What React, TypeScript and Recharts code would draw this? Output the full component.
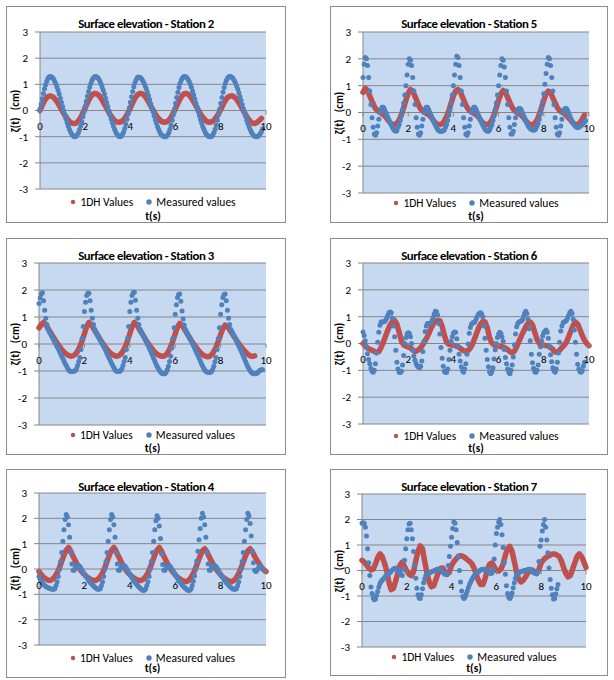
import React from "react";
import { ScatterChart, Scatter, XAxis, YAxis, CartesianGrid, Legend } from "recharts";

const RED = "#C0504D";
const BLUE = "#4F81BD";
const GRID = "#868686";
const PLOT_BG = "#C6D9F1";
const FONT = 'Carlito, Calibri, Lato, "Liberation Sans", sans-serif';

const X_TICKS = [0, 2, 4, 6, 8, 10];
const Y_TICKS = [-3, -2, -1, 0, 1, 2, 3];

// sample times of the measured records (0.05 s)
const T_MEAS = [
  0, 0.05, 0.1, 0.15, 0.2, 0.25, 0.3, 0.35, 0.4, 0.45, 0.5, 0.55, 0.6, 0.65, 0.7, 0.75, 0.8, 0.85, 0.9, 0.95,
  1, 1.05, 1.1, 1.15, 1.2, 1.25, 1.3, 1.35, 1.4, 1.45, 1.5, 1.55, 1.6, 1.65, 1.7, 1.75, 1.8, 1.85, 1.9, 1.95,
  2, 2.05, 2.1, 2.15, 2.2, 2.25, 2.3, 2.35, 2.4, 2.45, 2.5, 2.55, 2.6, 2.65, 2.7, 2.75, 2.8, 2.85, 2.9, 2.95,
  3, 3.05, 3.1, 3.15, 3.2, 3.25, 3.3, 3.35, 3.4, 3.45, 3.5, 3.55, 3.6, 3.65, 3.7, 3.75, 3.8, 3.85, 3.9, 3.95,
  4, 4.05, 4.1, 4.15, 4.2, 4.25, 4.3, 4.35, 4.4, 4.45, 4.5, 4.55, 4.6, 4.65, 4.7, 4.75, 4.8, 4.85, 4.9, 4.95,
  5, 5.05, 5.1, 5.15, 5.2, 5.25, 5.3, 5.35, 5.4, 5.45, 5.5, 5.55, 5.6, 5.65, 5.7, 5.75, 5.8, 5.85, 5.9, 5.95,
  6, 6.05, 6.1, 6.15, 6.2, 6.25, 6.3, 6.35, 6.4, 6.45, 6.5, 6.55, 6.6, 6.65, 6.7, 6.75, 6.8, 6.85, 6.9, 6.95,
  7, 7.05, 7.1, 7.15, 7.2, 7.25, 7.3, 7.35, 7.4, 7.45, 7.5, 7.55, 7.6, 7.65, 7.7, 7.75, 7.8, 7.85, 7.9, 7.95,
  8, 8.05, 8.1, 8.15, 8.2, 8.25, 8.3, 8.35, 8.4, 8.45, 8.5, 8.55, 8.6, 8.65, 8.7, 8.75, 8.8, 8.85, 8.9, 8.95,
  9, 9.05, 9.1, 9.15, 9.2, 9.25, 9.3, 9.35, 9.4, 9.45, 9.5, 9.55, 9.6, 9.65, 9.7, 9.75, 9.8, 9.85, 9.9, 9.95,
];

// output times of the 1DH model (0.1 s)
const T_MODEL = [
  0, 0.1, 0.2, 0.3, 0.4, 0.5, 0.6, 0.7, 0.8, 0.9,
  1, 1.1, 1.2, 1.3, 1.4, 1.5, 1.6, 1.7, 1.8, 1.9,
  2, 2.1, 2.2, 2.3, 2.4, 2.5, 2.6, 2.7, 2.8, 2.9,
  3, 3.1, 3.2, 3.3, 3.4, 3.5, 3.6, 3.7, 3.8, 3.9,
  4, 4.1, 4.2, 4.3, 4.4, 4.5, 4.6, 4.7, 4.8, 4.9,
  5, 5.1, 5.2, 5.3, 5.4, 5.5, 5.6, 5.7, 5.8, 5.9,
  6, 6.1, 6.2, 6.3, 6.4, 6.5, 6.6, 6.7, 6.8, 6.9,
  7, 7.1, 7.2, 7.3, 7.4, 7.5, 7.6, 7.7, 7.8, 7.9,
  8, 8.1, 8.2, 8.3, 8.4, 8.5, 8.6, 8.7, 8.8, 8.9,
  9, 9.1, 9.2, 9.3, 9.4, 9.5, 9.6, 9.7, 9.8, 9.9,
  10,
];

// ---- Station 2
const st2Measured = [
  0.05, 0.25, 0.45, 0.65, 0.83, 0.98, 1.12, 1.22, 1.28, 1.3, 1.29, 1.25, 1.2, 1.12, 1.02, 0.9, 0.77, 0.63, 0.47, 0.31,
  0.15, -0.01, -0.17, -0.33, -0.47, -0.6, -0.72, -0.82, -0.9, -0.95, -0.99, -1.0, -0.98, -0.93, -0.85, -0.73, -0.59, -0.43, -0.24, -0.05,
  0.15, 0.35, 0.54, 0.73, 0.89, 1.03, 1.15, 1.23, 1.28, 1.3, 1.29, 1.25, 1.2, 1.12, 1.02, 0.9, 0.77, 0.63, 0.47, 0.31,
  0.15, -0.01, -0.17, -0.33, -0.47, -0.6, -0.72, -0.82, -0.9, -0.95, -0.99, -1.0, -0.97, -0.91, -0.82, -0.69, -0.53, -0.33, -0.12, 0.1,
  0.32, 0.53, 0.73, 0.91, 1.06, 1.17, 1.25, 1.28, 1.27, 1.25, 1.2, 1.13, 1.05, 0.95, 0.83, 0.7, 0.56, 0.41, 0.26, 0.1,
  -0.05, -0.2, -0.35, -0.48, -0.61, -0.72, -0.82, -0.9, -0.95, -0.98, -1.0, -1.0, -0.98, -0.93, -0.84, -0.72, -0.56, -0.37, -0.16, 0.06,
  0.28, 0.5, 0.7, 0.88, 1.04, 1.16, 1.24, 1.29, 1.3, 1.29, 1.25, 1.19, 1.11, 1.01, 0.89, 0.75, 0.6, 0.45, 0.29, 0.13,
  -0.03, -0.19, -0.34, -0.48, -0.61, -0.72, -0.82, -0.9, -0.95, -0.98, -1.0, -1.0, -0.98, -0.93, -0.84, -0.72, -0.56, -0.37, -0.16, 0.06,
  0.28, 0.5, 0.7, 0.88, 1.04, 1.16, 1.24, 1.29, 1.3, 1.29, 1.26, 1.21, 1.14, 1.05, 0.94, 0.82, 0.68, 0.53, 0.38, 0.22,
  0.07, -0.08, -0.23, -0.37, -0.5, -0.62, -0.73, -0.82, -0.89, -0.95, -0.98, -1.0, -1.0, -0.98, -0.94, -0.88, -0.8, -0.7,
];
const st2Model = [
  0.0, 0.2, 0.38, 0.5, 0.55, 0.55, 0.5, 0.4, 0.27, 0.12,
  -0.03, -0.18, -0.31, -0.42, -0.48, -0.5, -0.48, -0.4, -0.27, -0.1,
  0.1, 0.3, 0.47, 0.59, 0.65, 0.64, 0.58, 0.47, 0.32, 0.16,
  0.0, -0.15, -0.28, -0.38, -0.44, -0.45, -0.43, -0.36, -0.24, -0.08,
  0.1, 0.3, 0.47, 0.59, 0.65, 0.65, 0.59, 0.48, 0.34, 0.18,
  0.02, -0.13, -0.26, -0.36, -0.43, -0.45, -0.43, -0.37, -0.26, -0.1,
  0.08, 0.28, 0.45, 0.58, 0.65, 0.65, 0.59, 0.48, 0.34, 0.18,
  0.02, -0.13, -0.26, -0.36, -0.43, -0.45, -0.43, -0.37, -0.26, -0.12,
  0.05, 0.22, 0.38, 0.5, 0.55, 0.56, 0.52, 0.43, 0.3, 0.15,
  -0.01, -0.16, -0.3, -0.41, -0.48, -0.5, -0.46, -0.38, -0.3,
];

// ---- Station 5
const st5Measured = [
  1.3, 1.8, 2.05, 2.0, 1.75, 1.3, 0.8, 0.3, -0.2, -0.55, -0.8, -0.85, -0.75, -0.5, -0.25, 0.0, 0.12, 0.2, 0.2, 0.12,
  0.02, -0.08, -0.18, -0.28, -0.38, -0.47, -0.55, -0.62, -0.67, -0.7, -0.68, -0.55, -0.45, -0.3, -0.1, 0.1, 0.35, 0.65, 1.0, 1.4,
  1.8, 2.0, 1.95, 1.75, 1.3, 0.8, 0.3, -0.2, -0.55, -0.8, -0.85, -0.75, -0.5, -0.25, 0.0, 0.12, 0.2, 0.2, 0.12, 0.02,
  -0.08, -0.18, -0.28, -0.38, -0.47, -0.55, -0.62, -0.67, -0.7, -0.7, -0.7, -0.68, -0.65, -0.55, -0.45, -0.3, -0.1, 0.1, 0.35, 0.65,
  1.0, 1.4, 1.8, 2.1, 2.05, 1.75, 1.3, 0.8, 0.3, -0.2, -0.55, -0.8, -0.85, -0.75, -0.5, -0.25, 0.0, 0.12, 0.2, 0.2,
  0.12, 0.02, -0.08, -0.18, -0.28, -0.38, -0.47, -0.55, -0.62, -0.67, -0.7, -0.7, -0.65, -0.55, -0.45, -0.3, -0.1, 0.1, 0.35, 0.65,
  1.0, 1.4, 1.75, 2.0, 1.95, 1.7, 1.3, 0.8, 0.3, -0.2, -0.55, -0.8, -0.8, -0.7, -0.45, -0.2, 0.0, 0.1, 0.15, 0.15,
  0.1, 0.0, -0.1, -0.2, -0.3, -0.4, -0.48, -0.55, -0.6, -0.63, -0.65, -0.65, -0.65, -0.6, -0.5, -0.4, -0.25, -0.05, 0.15, 0.4,
  0.7, 1.05, 1.45, 1.8, 2.05, 2.0, 1.75, 1.3, 0.8, 0.3, -0.2, -0.55, -0.8, -0.85, -0.75, -0.5, -0.25, 0.0, 0.1, 0.15,
  0.15, 0.08, -0.02, -0.12, -0.22, -0.32, -0.4, -0.47, -0.52, -0.55, -0.57, -0.55, -0.52, -0.48, -0.45, -0.4, -0.35, -0.3,
];
const st5Model = [
  0.75, 0.9, 0.82, 0.62, 0.42, 0.22, 0.1, 0.03, -0.02, -0.08,
  -0.16, -0.28, -0.38, -0.44, -0.45, -0.4, -0.28, -0.08, 0.18, 0.46,
  0.72, 0.86, 0.8, 0.6, 0.4, 0.2, 0.08, 0.02, -0.03, -0.08,
  -0.16, -0.28, -0.38, -0.44, -0.45, -0.42, -0.32, -0.15, 0.08, 0.35,
  0.62, 0.8, 0.86, 0.78, 0.58, 0.38, 0.2, 0.08, 0.02, -0.03,
  -0.08, -0.16, -0.28, -0.38, -0.44, -0.45, -0.4, -0.28, -0.08, 0.18,
  0.46, 0.7, 0.82, 0.75, 0.56, 0.37, 0.19, 0.07, 0.01, -0.04,
  -0.1, -0.18, -0.3, -0.4, -0.45, -0.46, -0.4, -0.28, -0.08, 0.18,
  0.46, 0.7, 0.8, 0.74, 0.55, 0.36, 0.18, 0.07, 0.01, -0.04,
  -0.1, -0.2, -0.3, -0.4, -0.45, -0.45, -0.38, -0.25, -0.1,
];

// ---- Station 3
const st3Measured = [
  1.5, 1.7, 1.85, 1.9, 1.6, 1.25, 0.95, 0.72, 0.55, 0.45, 0.38, 0.3, 0.22, 0.14, 0.06, -0.02, -0.1, -0.18, -0.27, -0.36,
  -0.45, -0.54, -0.63, -0.72, -0.8, -0.88, -0.95, -1.0, -1.02, -1.02, -1.02, -1.0, -0.98, -0.92, -0.8, -0.65, -0.5, -0.2, 0.2, 0.65,
  1.2, 1.55, 1.8, 1.88, 1.88, 1.6, 1.25, 0.95, 0.72, 0.55, 0.45, 0.38, 0.3, 0.22, 0.14, 0.06, -0.02, -0.1, -0.18, -0.27,
  -0.36, -0.45, -0.54, -0.63, -0.72, -0.8, -0.88, -0.95, -1.0, -1.02, -1.02, -1.02, -0.98, -0.92, -0.8, -0.65, -0.5, -0.2, 0.2, 0.65,
  1.2, 1.55, 1.8, 1.9, 1.92, 1.62, 1.25, 0.95, 0.72, 0.55, 0.45, 0.38, 0.3, 0.22, 0.13, 0.04, -0.05, -0.14, -0.23, -0.33,
  -0.43, -0.53, -0.63, -0.73, -0.82, -0.9, -0.97, -1.03, -1.07, -1.1, -1.1, -1.1, -1.05, -0.95, -0.82, -0.65, -0.45, -0.15, 0.2, 0.6,
  1.1, 1.45, 1.72, 1.83, 1.85, 1.58, 1.22, 0.93, 0.7, 0.54, 0.44, 0.36, 0.28, 0.2, 0.12, 0.03, -0.06, -0.15, -0.24, -0.33,
  -0.42, -0.52, -0.62, -0.72, -0.81, -0.89, -0.96, -1.01, -1.04, -1.05, -1.05, -1.05, -1.02, -0.94, -0.82, -0.66, -0.5, -0.2, 0.2, 0.6,
  1.1, 1.45, 1.72, 1.83, 1.85, 1.6, 1.25, 0.95, 0.72, 0.55, 0.45, 0.37, 0.29, 0.2, 0.11, 0.02, -0.07, -0.16, -0.25, -0.35,
  -0.45, -0.55, -0.65, -0.75, -0.84, -0.92, -0.99, -1.04, -1.08, -1.1, -1.1, -1.1, -1.08, -1.05, -1.0, -0.97, -0.95, -0.95,
];
const st3Model = [
  0.6, 0.72, 0.8, 0.72, 0.58, 0.44, 0.3, 0.16, 0.03, -0.09,
  -0.2, -0.3, -0.37, -0.42, -0.45, -0.44, -0.38, -0.27, -0.1, 0.12,
  0.38, 0.64, 0.8, 0.72, 0.58, 0.44, 0.3, 0.16, 0.03, -0.09,
  -0.2, -0.3, -0.37, -0.42, -0.45, -0.44, -0.38, -0.27, -0.1, 0.12,
  0.38, 0.64, 0.8, 0.72, 0.58, 0.44, 0.3, 0.16, 0.03, -0.09,
  -0.2, -0.3, -0.37, -0.42, -0.45, -0.45, -0.4, -0.28, -0.1, 0.12,
  0.38, 0.62, 0.76, 0.7, 0.56, 0.42, 0.28, 0.14, 0.01, -0.1,
  -0.21, -0.31, -0.39, -0.44, -0.47, -0.46, -0.4, -0.28, -0.12, 0.1,
  0.35, 0.58, 0.7, 0.65, 0.53, 0.4, 0.27, 0.14, 0.02, -0.1,
  -0.2, -0.3, -0.38, -0.44, -0.46, -0.44,
];

// ---- Station 6
const st6Measured = [
  0.43, 0.3, 0.1, -0.12, -0.38, -0.6, -0.75, -0.92, -1.03, -1.07, -1.0, -0.75, -0.35, 0.05, 0.42, 0.68, 0.8, 0.8, 0.8, 0.82,
  0.87, 0.94, 1.05, 1.15, 1.17, 1.15, 0.95, 0.65, 0.25, -0.25, -0.7, -0.95, -1.07, -1.08, -1.03, -0.8, -0.45, 0.0, 0.22, 0.35,
  0.4, 0.38, 0.25, 0.0, -0.25, -0.47, -0.62, -0.75, -0.83, -0.88, -0.9, -0.85, -0.65, -0.3, 0.08, 0.45, 0.65, 0.75, 0.75, 0.74,
  0.75, 0.85, 0.97, 1.1, 1.2, 1.18, 1.06, 0.75, 0.35, -0.15, -0.55, -0.85, -1.03, -1.08, -1.07, -0.95, -0.6, -0.25, 0.07, 0.25,
  0.38, 0.43, 0.42, 0.18, -0.1, -0.4, -0.65, -0.87, -1.02, -1.07, -0.95, -0.75, -0.4, -0.02, 0.38, 0.6, 0.72, 0.76, 0.78, 0.8,
  0.9, 1.0, 1.08, 1.13, 1.15, 1.1, 1.0, 0.65, 0.2, -0.25, -0.6, -0.87, -1.05, -1.13, -1.05, -0.9, -0.58, -0.23, 0.0, 0.22,
  0.35, 0.42, 0.38, 0.25, 0.08, -0.22, -0.52, -0.75, -0.95, -1.08, -1.13, -1.0, -0.8, -0.5, -0.05, 0.35, 0.62, 0.75, 0.8, 0.82,
  0.84, 0.88, 1.0, 1.13, 1.2, 1.12, 0.9, 0.55, 0.1, -0.4, -0.72, -0.92, -1.05, -1.07, -1.0, -0.8, -0.4, -0.12, 0.1, 0.28,
  0.4, 0.45, 0.5, 0.42, 0.2, -0.1, -0.42, -0.68, -0.9, -1.02, -1.07, -0.95, -0.7, -0.35, 0.05, 0.47, 0.65, 0.77, 0.8, 0.83,
  0.86, 0.95, 1.05, 1.15, 1.2, 1.12, 0.9, 0.5, 0.05, -0.4, -0.77, -0.95, -1.05, -1.07, -1.02, -0.85, -0.7,
];
const st6Model = [
  0.0, -0.1, -0.17, -0.21, -0.25, -0.29, -0.34, -0.3, -0.15, 0.05,
  0.28, 0.5, 0.7, 0.82, 0.86, 0.72, 0.42, 0.1, -0.05, -0.1,
  -0.13, -0.17, -0.23, -0.3, -0.27, -0.2, -0.1, 0.03, 0.18, 0.35,
  0.55, 0.72, 0.82, 0.86, 0.85, 0.65, 0.3, 0.05, -0.03, -0.05,
  -0.07, -0.09, -0.12, -0.18, -0.24, -0.28, -0.29, -0.22, -0.1, 0.1,
  0.32, 0.55, 0.72, 0.82, 0.8, 0.58, 0.22, 0.02, -0.05, -0.08,
  -0.1, -0.11, -0.13, -0.17, -0.23, -0.3, -0.35, -0.28, -0.12, 0.08,
  0.27, 0.45, 0.62, 0.75, 0.8, 0.7, 0.42, 0.15, 0.0, -0.05,
  -0.06, -0.08, -0.1, -0.15, -0.22, -0.32, -0.33, -0.25, -0.15, -0.07,
  0.05, 0.25, 0.47, 0.68, 0.8, 0.72, 0.52, 0.3, 0.12, 0.0,
  -0.08,
];

// ---- Station 4
const st4Measured = [
  -0.3, -0.4, -0.48, -0.55, -0.6, -0.65, -0.69, -0.72, -0.74, -0.76, -0.78, -0.79, -0.8, -0.8, -0.77, -0.65, -0.5, -0.3, 0.0, 0.3,
  0.65, 1.1, 1.55, 1.95, 2.15, 2.05, 1.75, 1.25, 0.65, 0.2, -0.05, -0.05, 0.05, 0.1, 0.15, 0.13, 0.1, 0.03, -0.05, -0.13,
  -0.2, -0.27, -0.33, -0.4, -0.46, -0.52, -0.57, -0.62, -0.67, -0.71, -0.75, -0.78, -0.8, -0.8, -0.77, -0.65, -0.5, -0.3, 0.0, 0.3,
  0.65, 1.1, 1.55, 1.95, 2.15, 2.05, 1.75, 1.25, 0.65, 0.2, -0.05, -0.05, 0.05, 0.1, 0.15, 0.13, 0.1, 0.03, -0.05, -0.13,
  -0.2, -0.28, -0.35, -0.42, -0.48, -0.55, -0.6, -0.66, -0.71, -0.75, -0.8, -0.83, -0.85, -0.83, -0.78, -0.65, -0.5, -0.3, 0.0, 0.3,
  0.65, 1.1, 1.55, 1.9, 2.1, 2.0, 1.7, 1.2, 0.6, 0.18, -0.05, -0.05, 0.05, 0.1, 0.13, 0.12, 0.08, 0.0, -0.08, -0.15,
  -0.22, -0.3, -0.37, -0.44, -0.5, -0.56, -0.62, -0.67, -0.72, -0.76, -0.8, -0.83, -0.85, -0.83, -0.78, -0.65, -0.48, -0.28, 0.0, 0.32,
  0.7, 1.15, 1.6, 2.0, 2.2, 2.05, 1.75, 1.25, 0.65, 0.2, -0.05, -0.05, 0.05, 0.1, 0.15, 0.13, 0.1, 0.03, -0.05, -0.13,
  -0.2, -0.27, -0.34, -0.41, -0.47, -0.53, -0.58, -0.63, -0.68, -0.72, -0.76, -0.79, -0.8, -0.8, -0.77, -0.65, -0.5, -0.3, 0.0, 0.3,
  0.65, 1.1, 1.55, 1.95, 2.2, 2.1, 1.8, 1.3, 0.7, 0.25, -0.05, -0.1, -0.05, 0.02, 0.08, 0.1, 0.05, 0.0,
];
const st4Model = [
  -0.1, -0.22, -0.32, -0.39, -0.44, -0.45, -0.4, -0.3, -0.15, 0.05,
  0.3, 0.55, 0.75, 0.85, 0.7, 0.5, 0.32, 0.15, 0.0, -0.12,
  -0.22, -0.3, -0.37, -0.42, -0.45, -0.45, -0.4, -0.3, -0.15, 0.05,
  0.3, 0.55, 0.75, 0.85, 0.7, 0.5, 0.32, 0.15, 0.0, -0.12,
  -0.22, -0.3, -0.37, -0.42, -0.45, -0.45, -0.4, -0.3, -0.15, 0.05,
  0.3, 0.55, 0.75, 0.85, 0.7, 0.5, 0.32, 0.15, 0.0, -0.12,
  -0.23, -0.32, -0.39, -0.45, -0.48, -0.5, -0.45, -0.33, -0.17, 0.03,
  0.28, 0.52, 0.72, 0.8, 0.68, 0.48, 0.3, 0.14, 0.0, -0.12,
  -0.23, -0.32, -0.39, -0.45, -0.48, -0.5, -0.45, -0.33, -0.17, 0.03,
  0.28, 0.52, 0.72, 0.8, 0.68, 0.5, 0.35, 0.2, 0.07, -0.03,
  -0.1,
];

// ---- Station 7
const st7Measured = [
  1.85, 1.87, 1.85, 1.7, 1.35, 0.85, 0.3, -0.2, -0.65, -0.9, -1.08, -1.15, -1.12, -0.98, -0.82, -0.65, -0.52, -0.43, -0.38, -0.33,
  -0.28, -0.23, -0.19, -0.15, -0.12, -0.08, -0.03, 0.02, 0.05, 0.08, 0.1, 0.08, 0.02, -0.05, -0.1, -0.17, -0.2, 0.05, 0.4, 0.85,
  1.25, 1.6, 1.82, 1.85, 1.6, 1.25, 0.75, 0.2, -0.3, -0.7, -0.95, -1.08, -1.1, -0.95, -0.72, -0.48, -0.32, -0.2, -0.14, -0.1,
  -0.1, -0.08, -0.05, -0.03, -0.02, 0.0, 0.02, 0.05, 0.05, 0.03, 0.02, 0.0, -0.05, -0.1, -0.15, -0.15, -0.12, 0.2, 0.55, 0.95,
  1.3, 1.65, 1.9, 1.85, 1.6, 1.1, 0.55, 0.0, -0.45, -0.8, -1.02, -1.1, -1.05, -0.92, -0.8, -0.67, -0.55, -0.45, -0.36, -0.28,
  -0.22, -0.17, -0.12, -0.08, -0.04, -0.01, 0.02, 0.04, 0.05, 0.05, 0.05, 0.03, 0.0, -0.05, -0.1, -0.12, -0.1, 0.05, 0.45, 1.0,
  1.45, 1.7, 1.9, 2.0, 1.8, 1.4, 0.9, 0.3, -0.15, -0.6, -0.9, -1.05, -1.1, -1.02, -0.88, -0.68, -0.48, -0.3, -0.18, -0.12,
  -0.08, -0.06, -0.05, -0.03, -0.02, 0.0, 0.0, 0.02, 0.03, 0.05, 0.05, 0.03, -0.02, -0.08, -0.1, -0.12, -0.12, -0.05, 0.35, 0.95,
  1.2, 1.55, 1.8, 2.0, 1.7, 1.2, 0.7, 0.1, -0.35, -0.7, -0.95, -1.12, -1.1, -0.92, -0.72, -0.55,
];
const st7Model = [
  0.4, 0.33, 0.22, 0.1, 0.02, 0.05, 0.25, 0.5, 0.65, 0.55,
  0.3, 0.0, -0.45, -0.75, -0.7, -0.42, -0.1, 0.22, 0.33, 0.15,
  -0.02, -0.15, -0.2, -0.05, 0.38, 0.75, 0.97, 0.85, 0.35, -0.1,
  -0.45, -0.64, -0.6, -0.35, -0.1, 0.08, 0.1, -0.05, -0.15, -0.05,
  0.2, 0.35, 0.45, 0.55, 0.58, 0.55, 0.5, 0.43, 0.36, 0.27,
  0.1, -0.15, -0.4, -0.55, -0.55, -0.3, 0.05, 0.25, 0.3, 0.15,
  0.0, -0.02, 0.05, 0.25, 0.6, 0.85, 0.94, 0.75, 0.35, -0.05,
  -0.35, -0.45, -0.38, -0.25, -0.1, 0.0, 0.02, -0.05, -0.12, 0.05,
  0.3, 0.42, 0.5, 0.55, 0.6, 0.65, 0.65, 0.6, 0.55, 0.38,
  0.12, -0.12, -0.25, -0.2, 0.05, 0.3, 0.55, 0.65, 0.55, 0.35,
  0.12,
];

const pairs = (ts: number[], vs: number[]) => vs.map((v, i) => ({ t: ts[i], v }));

type Panel = {
  title: string;
  left: number;
  top: number;
  w: number;
  h: number;
  plot: { l: number; r: number; t: number; b: number };
  legendY: number;
  axisY: number;
  model: number[];
  measured: number[];
};

const PANELS: Panel[] = [
  { title: "Surface elevation - Station 2", left: 6, top: 6, w: 280, h: 217, plot: { l: 34, r: 260, t: 26, b: 183 }, legendY: 196, axisY: 210, model: st2Model, measured: st2Measured },
  { title: "Surface elevation - Station 5", left: 330, top: 6, w: 278, h: 217, plot: { l: 33, r: 259, t: 26, b: 187 }, legendY: 197, axisY: 210, model: st5Model, measured: st5Measured },
  { title: "Surface elevation - Station 3", left: 6, top: 238, w: 280, h: 217, plot: { l: 33, r: 260, t: 25, b: 187 }, legendY: 197, axisY: 210, model: st3Model, measured: st3Measured },
  { title: "Surface elevation - Station 6", left: 330, top: 238, w: 278, h: 217, plot: { l: 33, r: 259, t: 25, b: 186 }, legendY: 198, axisY: 210, model: st6Model, measured: st6Measured },
  { title: "Surface elevation - Station 4", left: 6, top: 469, w: 280, h: 209, plot: { l: 33, r: 260, t: 24, b: 176 }, legendY: 189, axisY: 199, model: st4Model, measured: st4Measured },
  { title: "Surface elevation - Station 7", left: 330, top: 469, w: 278, h: 207, plot: { l: 32, r: 256, t: 25, b: 178 }, legendY: 188, axisY: 199, model: st7Model, measured: st7Measured },
];

const MeasuredDot = (props: any) => <circle cx={props.cx} cy={props.cy} r={2.5} fill={BLUE} />;
const NoDot = () => <g />;

function LegendRow(props: any) {
  const items = props.payload || [];
  return (
    <div style={{ display: "flex", justifyContent: "center", alignItems: "center", fontFamily: FONT, fontSize: 11.5, color: "#000", lineHeight: "14px" }}>
      {items.map((p: any, i: number) => (
        <span key={i} style={{ display: "inline-flex", alignItems: "center", marginLeft: i ? 13 : 0 }}>
          <svg width={6} height={6} style={{ marginRight: 4 }}>
            <circle cx={3} cy={3} r={i ? 2.7 : 2.2} fill={p.color} />
          </svg>
          {p.value}
        </span>
      ))}
    </div>
  );
}

function StationChart({ p }: { p: Panel }) {
  const plotW = p.plot.r - p.plot.l;
  const zeroY = (p.plot.t + p.plot.b) / 2;
  // x axis crosses at zero, Excel style: tick marks and labels just under the zero line
  const xTick = (props: any) => (
    <g>
      <line x1={props.x} x2={props.x} y1={zeroY} y2={zeroY + 4} stroke={GRID} />
      <text x={props.x} y={zeroY + 19.5} textAnchor="middle" fontSize={11} fontFamily={FONT} fill="#000">
        {props.payload.value}
      </text>
    </g>
  );
  return (
    <div style={{ position: "absolute", left: p.left, top: p.top, width: p.w, height: p.h, background: "#fff" }}>
      <ScatterChart
        width={p.w}
        height={p.h}
        margin={{ top: p.plot.t, right: p.w - p.plot.r, bottom: p.h - p.plot.b - 1, left: 0 }}
      >
        <CartesianGrid vertical={false} stroke={GRID} fill={PLOT_BG} fillOpacity={1} />
        <XAxis
          type="number"
          dataKey="t"
          domain={[0, 10]}
          ticks={X_TICKS}
          interval={0}
          height={1}
          axisLine={false}
          tickLine={false}
          tick={xTick}
        />
        <YAxis
          type="number"
          dataKey="v"
          domain={[-3, 3]}
          ticks={Y_TICKS}
          interval={0}
          width={p.plot.l}
          axisLine={{ stroke: GRID }}
          tickLine={{ stroke: GRID }}
          tickSize={5}
          tickMargin={7}
          tick={{ fontSize: 11, fontFamily: FONT, fill: "#000" }}
        />
        <Legend
          verticalAlign="middle"
          align="center"
          width={plotW}
          wrapperStyle={{ left: p.plot.l, top: p.legendY - 7 }}
          content={<LegendRow />}
        />
        <Scatter
          name="1DH Values"
          data={pairs(T_MODEL, p.model)}
          fill={RED}
          line={{ stroke: RED, strokeWidth: 5.5, strokeLinejoin: "round", strokeLinecap: "round" }}
          shape={NoDot}
          isAnimationActive={false}
        />
        <Scatter
          name="Measured values"
          data={pairs(T_MEAS, p.measured)}
          fill={BLUE}
          shape={MeasuredDot}
          isAnimationActive={false}
        />
      </ScatterChart>
      <div style={{ position: "absolute", left: 0, top: 9, width: p.w, textAlign: "center", fontFamily: FONT, fontWeight: 700, fontSize: 12.8, letterSpacing: -0.45, lineHeight: "17px" }}>
        {p.title}
      </div>
      <div
        style={{
          position: "absolute",
          left: 9,
          top: zeroY,
          transform: "translate(-50%, -50%) rotate(-90deg)",
          whiteSpace: "pre",
          fontFamily: FONT,
          fontWeight: 700,
          fontSize: 11,
        }}
      >
        {"ζ(t)   (cm)"}
      </div>
      <div style={{ position: "absolute", left: p.plot.l, top: p.axisY - 7, width: plotW, textAlign: "center", fontFamily: FONT, fontWeight: 700, fontSize: 11.5, lineHeight: "14px" }}>
        t(s)
      </div>
      <div style={{ position: "absolute", inset: 0, border: "1px solid #8C8C8C", pointerEvents: "none" }} />
    </div>
  );
}

export default function App() {
  return (
    <div style={{ position: "absolute", left: 0, top: 0, width: 614, height: 680, background: "#fff", overflow: "hidden" }}>
      {PANELS.map((p) => (
        <StationChart key={p.title} p={p} />
      ))}
    </div>
  );
}
